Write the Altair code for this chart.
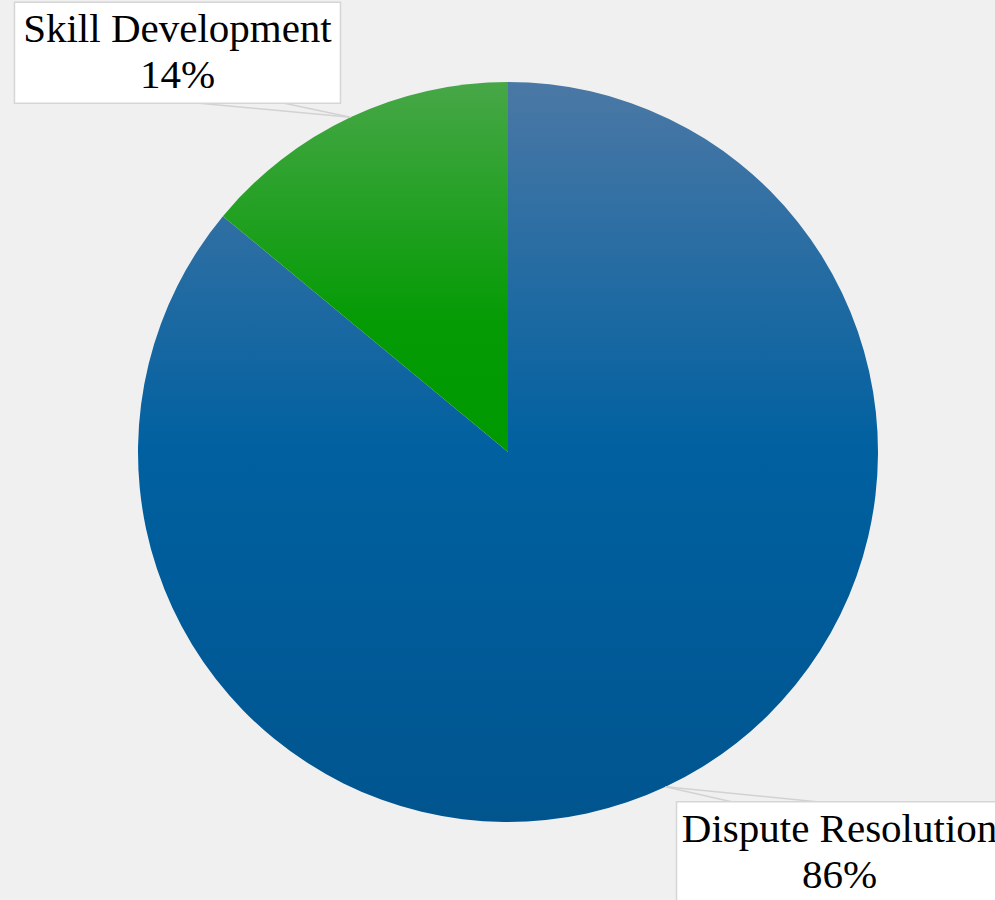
import altair as alt
import pandas as pd

# ---- data ----
categories = ["Dispute Resolution", "Skill Development"]
shares = [86, 14]
pct_labels = ["86%", "14%"]
slice_order = [0, 1]

df = pd.DataFrame({
    "category": categories,
    "share": shares,
    "pct": pct_labels,
    "order": slice_order,
})

# ---- layout / style ----
W, H = 995, 900
CX, CY, R = 508, 452, 370
BOX_W, BOX_H = 326, 101
FONT = "Liberation Serif"

blue_grad = {
    "gradient": "linear", "x1": 0, "y1": 0, "x2": 0, "y2": 1,
    "stops": [
        {"offset": 0, "color": "#4b78a5"},
        {"offset": 0.5, "color": "#0060a0"},
        {"offset": 1, "color": "#00558f"},
    ],
}
green_grad = {
    "gradient": "linear", "x1": 0, "y1": 0, "x2": 0, "y2": 1,
    "stops": [
        {"offset": 0, "color": "#47a747"},
        {"offset": 0.65, "color": "#049b04"},
        {"offset": 1, "color": "#009900"},
    ],
}

pie = alt.Chart(df).mark_arc(radius=R).encode(
    theta=alt.Theta("share:Q", stack=True),
    order=alt.Order("order:Q"),
    fill=alt.condition(
        alt.datum.category == "Skill Development",
        alt.value(green_grad),
        alt.value(blue_grad),
    ),
    x=alt.value(CX),
    y=alt.value(CY),
)

base = alt.Chart(df).transform_joinaggregate(
    total="sum(share)"
).transform_window(
    cum="sum(share)", sort=[alt.SortField("order")], frame=[None, 0]
).transform_calculate(
    mid="(datum.cum - datum.share / 2) / datum.total",
    ax=f"{CX} + {R} * sin(2 * PI * datum.mid)",
    ay=f"{CY} - {R} * cos(2 * PI * datum.mid)",
    sx=f"datum.ax < {CX} ? -1 : 1",
    sy=f"datum.ay < {CY} ? -1 : 1",
    bx1=f"datum.sx < 0 ? datum.ax - 336 : datum.ax + 11",
    bx2=f"datum.bx1 + {BOX_W}",
    by1=f"datum.sy < 0 ? datum.ay - 115 : datum.ay + 15",
    by2=f"datum.by1 + {BOX_H}",
    py="datum.sy < 0 ? datum.by2 : datum.by1",
    p1x="datum.ax + datum.sx * 66",
    p2x="datum.ax + datum.sx * 151",
    tx=f"datum.bx1 + {BOX_W} / 2",
    ty="datum.by1 + 40",
    label="datum.category + '\\n' + datum.pct",
)

def px(field):
    return alt.X(f"{field}:Q", scale=None, axis=None)

def py(field):
    return alt.Y(f"{field}:Q", scale=None, axis=None)

line1 = base.mark_rule(color="#d2d2d2", strokeWidth=1.5).encode(
    x=px("ax"), y=py("ay"), x2="p1x:Q", y2="py:Q"
)
line2 = base.mark_rule(color="#d2d2d2", strokeWidth=1.5).encode(
    x=px("ax"), y=py("ay"), x2="p2x:Q", y2="py:Q"
)
boxes = base.mark_rect(fill="white", stroke="#d6d6d6", strokeWidth=1.5).encode(
    x=px("bx1"), x2="bx2:Q", y=py("by1"), y2="by2:Q"
)
texts = base.mark_text(
    font=FONT, fontSize=41, lineBreak="\n", lineHeight=46,
    align="center", baseline="alphabetic", color="#000000",
).encode(
    x=px("tx"), y=py("ty"), text="label:N"
)

chart = alt.layer(pie, line1, line2, boxes, texts).properties(
    width=W, height=H, padding=0, background="#f0f0f0",
    autosize=alt.AutoSizeParams(type="none"),
).configure_view(stroke=None)

chart.save("out.html", embed_options={"renderer": "svg", "actions": False})
